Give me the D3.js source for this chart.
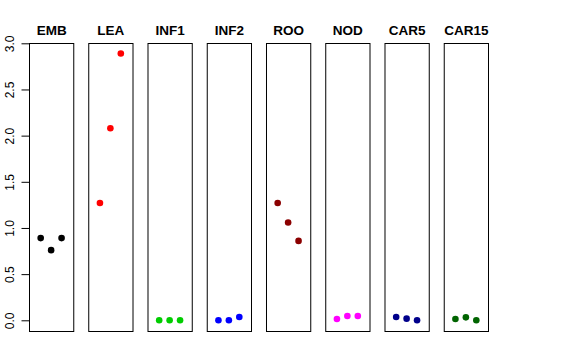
<!DOCTYPE html>
<style>
body { margin: 0; background: white; }
text { font-family: "Liberation Sans", Arial, sans-serif; }
</style>
<svg width="576" height="360"></svg>
<script src="https://d3js.org/d3.v7.min.js"></script>
<script>

var panels = ["EMB", "LEA", "INF1", "INF2", "ROO", "NOD", "CAR5", "CAR15"];
var colors = ["#000000", "#FF0000", "#00CD00", "#0000FF", "#8B0000", "#FF00FF", "#00008B", "#006400"];
var values = [
  [0.89, 0.76, 0.89],
  [1.27, 2.08, 2.89],
  [0.0, 0.0, 0.0],
  [0.0, 0.0, 0.036],
  [1.27, 1.06, 0.86],
  [0.014, 0.047, 0.047],
  [0.036, 0.018, 0.0],
  [0.014, 0.032, 0.0]
];
var yTicks = [0, 0.5, 1, 1.5, 2, 2.5, 3];

var svg = d3.select("svg");

var panelX = d3.scaleBand()
    .domain(panels)
    .range([29, 488])
    .paddingInner(0.253)
    .paddingOuter(0);

var plotTop = 43, plotBottom = 331;
var y = d3.scaleLinear().domain([0, 3]).range([320.3, 43.3]);

var bw = panelX.bandwidth();
var x = d3.scaleLinear().domain([-0.12, 4.12]).range([0, bw]);

// y axis on the left of the first panel
var yAxis = svg.append("g")
    .attr("transform", "translate(" + (panelX(panels[0]) + 0.5) + ",0)")
    .call(d3.axisLeft(y).tickValues(yTicks).tickSize(8).tickFormat(d3.format(".1f")));
yAxis.select(".domain").remove();
yAxis.selectAll(".tick line").attr("stroke", "#000");
yAxis.selectAll(".tick text")
    .attr("font-size", 12)
    .attr("fill", "#000")
    .attr("x", 0).attr("dy", 0)
    .attr("text-anchor", "middle")
    .attr("transform", "translate(-16,0) rotate(-90)");

var g = svg.selectAll("g.panel")
  .data(panels)
  .enter().append("g")
    .attr("class", "panel")
    .attr("transform", function(d) { return "translate(" + panelX(d) + ",0)"; });

g.append("rect")
    .attr("x", 0.5)
    .attr("y", plotTop + 0.5)
    .attr("width", bw)
    .attr("height", plotBottom - plotTop)
    .attr("fill", "none")
    .attr("stroke", "#000");

g.append("text")
    .attr("x", bw / 2 + 0.5)
    .attr("y", 34.5)
    .attr("text-anchor", "middle")
    .attr("font-size", 13.5)
    .attr("font-weight", "bold")
    .text(function(d) { return d; });

g.each(function(d, i) {
  d3.select(this).selectAll("circle")
    .data(values[i])
    .enter().append("circle")
      .attr("cx", function(v, j) { return x(j + 1); })
      .attr("cy", function(v) { return y(v); })
      .attr("r", 3.3)
      .attr("fill", colors[i]);
});

</script>
